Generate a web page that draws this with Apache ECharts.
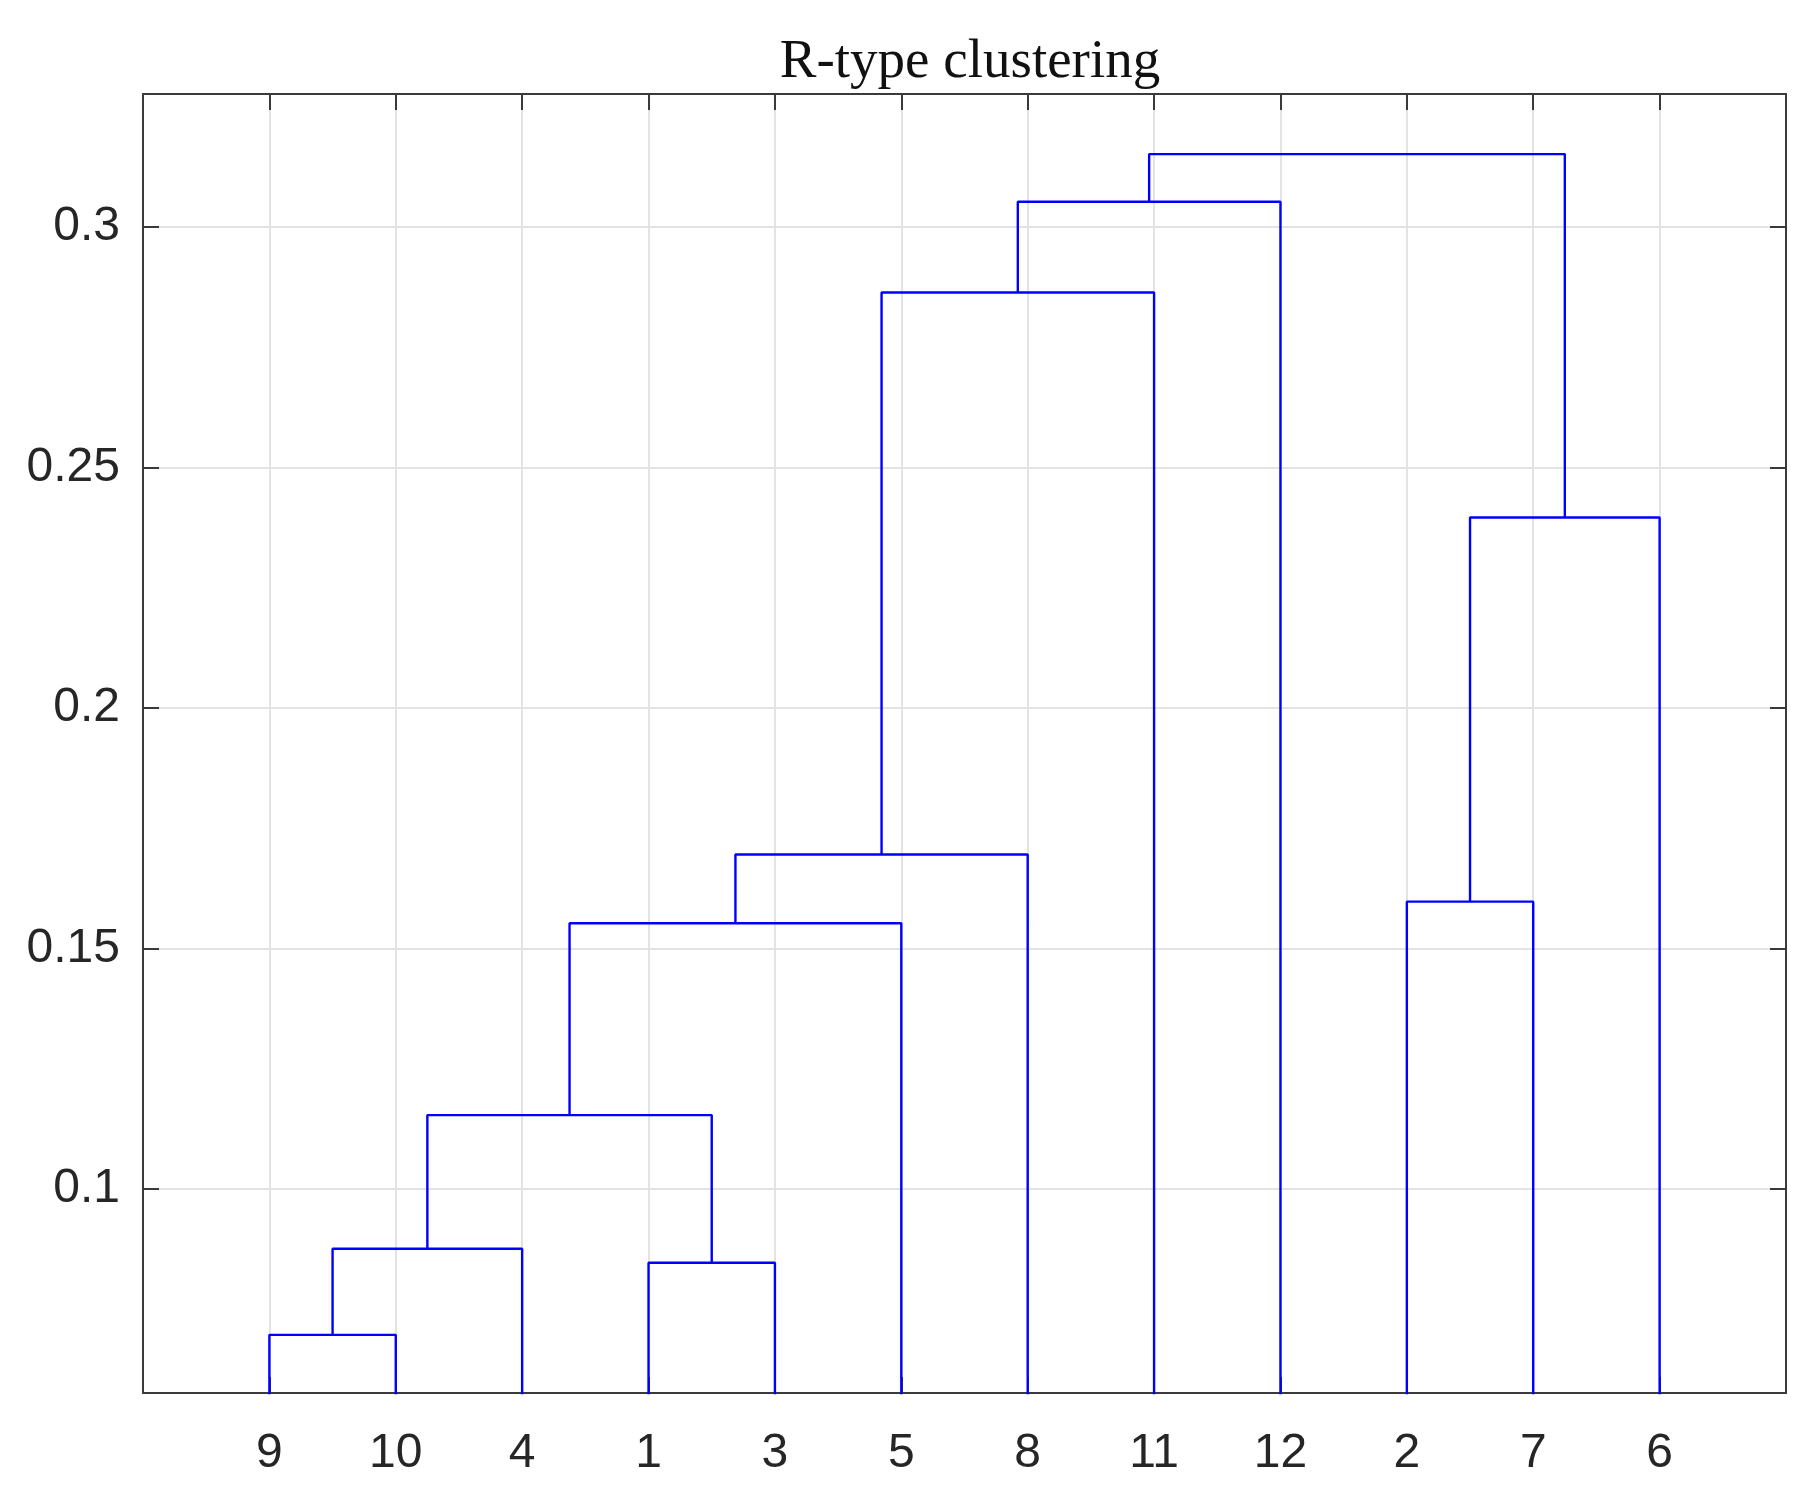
<!DOCTYPE html>
<html>
<head>
<meta charset="utf-8">
<script src="https://cdn.jsdelivr.net/npm/echarts@6/dist/echarts.min.js"></script>
<style>
html,body{margin:0;padding:0;background:#fff;}
#main{width:1818px;height:1491px;}
</style>
</head>
<body>
<div id="main"></div>
<script>
// Leaf order (left to right) as labelled on the x axis
var leafLabels = ['9', '10', '4', '1', '3', '5', '8', '11', '12', '2', '7', '6'];
// Linkage: each merge joins two nodes (leaf index 0..11, or earlier merge 12+) at a height
var mergeLeft   = [0,  12, 3,  13, 15, 16, 17, 18, 9,  20, 19];
var mergeRight  = [1,  2,  4,  14, 5,  6,  7,  8,  10, 11, 21];
var mergeHeight = [0.0696, 0.0875, 0.0846, 0.1153, 0.1552, 0.1695, 0.2864, 0.3053, 0.1597, 0.2396, 0.3152];
// Y axis tick labels
var yTicks = [0.1, 0.15, 0.2, 0.25, 0.3];
var yMin = 0.0575, yMax = 0.3277;

var nLeaf = leafLabels.length;
var nodeX = [], nodeY = [];
for (var i = 0; i < nLeaf; i++) { nodeX.push(i + 1); nodeY.push(0); }
var series = [];
for (var m = 0; m < mergeLeft.length; m++) {
  var a = mergeLeft[m], b = mergeRight[m], h = mergeHeight[m];
  series.push({
    type: 'line',
    xAxisIndex: 0, yAxisIndex: 0,
    data: [[nodeX[a], nodeY[a]], [nodeX[a], h], [nodeX[b], h], [nodeX[b], nodeY[b]]],
    symbol: 'none',
    lineStyle: { color: '#0000ff', width: 2.4 },
    clip: true,
    silent: true
  });
  nodeX.push((nodeX[a] + nodeX[b]) / 2);
  nodeY.push(h);
}

var axisColor = '#3a3a3a';
var gridColor = '#e3e3e3';
var labelFont = { fontFamily: 'Liberation Sans, Arial, sans-serif', fontSize: 48, color: '#262626' };
var xVals = [];
for (var k = 1; k <= nLeaf; k++) xVals.push(k);

var chart = echarts.init(document.getElementById('main'), null, { renderer: 'canvas' });
chart.setOption({
  animation: false,
  backgroundColor: '#ffffff',
  title: {
    text: 'R-type clustering',
    left: 965, top: 30, textAlign: 'center',
    textStyle: { fontFamily: 'Liberation Serif, Times New Roman, serif', fontWeight: 'normal', fontSize: 55, color: '#111111' }
  },
  grid: { left: 143, right: 32, top: 94, bottom: 98, containLabel: false },
  xAxis: [{
    type: 'value', position: 'bottom', min: 0, max: nLeaf + 1, interval: 1,
    axisLine: { show: true, onZero: false, lineStyle: { color: axisColor, width: 2 } },
    axisTick: { show: true, inside: true, length: 16, lineStyle: { color: axisColor, width: 2 } },
    axisLabel: Object.assign({
      margin: 37,
      customValues: xVals,
      formatter: function (v) { var i = Math.round(v) - 1; return (i >= 0 && i < nLeaf) ? leafLabels[i] : ''; }
    }, labelFont),
    splitLine: { show: true, lineStyle: { color: gridColor, width: 2 } }
  }, {
    type: 'value', position: 'top', min: 0, max: nLeaf + 1, interval: 1,
    axisLine: { show: true, onZero: false, lineStyle: { color: axisColor, width: 2 } },
    axisTick: { show: true, inside: true, length: 16, lineStyle: { color: axisColor, width: 2 } },
    axisLabel: { show: false },
    splitLine: { show: false }
  }],
  yAxis: [{
    type: 'value', position: 'left', min: yMin, max: yMax,
    axisLine: { show: true, onZero: false, lineStyle: { color: axisColor, width: 2 } },
    axisTick: { show: true, inside: true, length: 16, customValues: yTicks, lineStyle: { color: axisColor, width: 2 } },
    axisLabel: Object.assign({ margin: 23, customValues: yTicks, formatter: function (v) { return String(+v.toFixed(2)); } }, labelFont),
    splitLine: { show: true, lineStyle: { color: gridColor, width: 2 } }
  }, {
    type: 'value', position: 'right', min: yMin, max: yMax,
    axisLine: { show: true, onZero: false, lineStyle: { color: axisColor, width: 2 } },
    axisTick: { show: true, inside: true, length: 16, customValues: yTicks, lineStyle: { color: axisColor, width: 2 } },
    axisLabel: { show: false, customValues: yTicks },
    splitLine: { show: false }
  }],
  series: series
});
</script>
</body>
</html>
